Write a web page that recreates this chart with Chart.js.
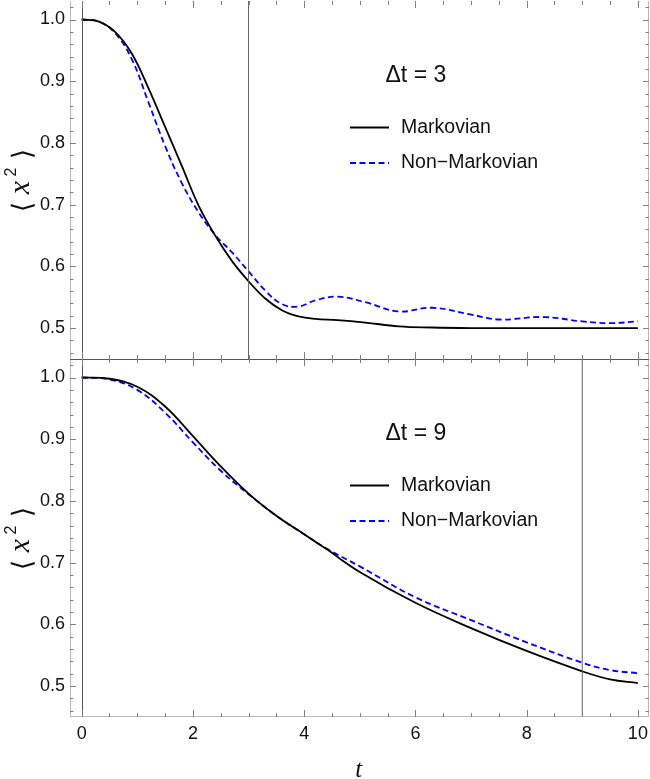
<!DOCTYPE html>
<html>
<head>
<meta charset="utf-8">
<script src="https://cdn.jsdelivr.net/npm/chart.js@4.4.1/dist/chart.umd.min.js"></script>
<style>
html, body { margin: 0; padding: 0; background: #fff; }
#wrap { position: relative; width: 650px; height: 779px; }
#topBox { position: absolute; left: 0; top: 0; width: 650px; height: 360px; }
#botBox { position: absolute; left: 0; top: 359px; width: 650px; height: 420px; }
</style>
</head>
<body>
<div id="wrap">
  <div id="topBox"><canvas id="topChart" width="650" height="360"></canvas></div>
  <div id="botBox"><canvas id="botChart" width="650" height="420"></canvas></div>
</div>
<script>
// DATA
//-----------------------------------------

// top panel, delta t = 3
let topTime = [0, 0.3, 0.6, 0.9, 1.2, 1.5, 1.8, 2.1, 2.4, 2.7, 3.0, 3.3, 3.6, 3.9, 4.2, 4.6, 5.1, 5.7, 6.3, 7.0, 7.5, 8.3, 9.0, 9.5, 10]
let topMarkov = [1.0, 0.997, 0.980, 0.945, 0.889, 0.826, 0.763, 0.699, 0.650, 0.609, 0.576, 0.548, 0.529, 0.519, 0.515, 0.513, 0.509, 0.503, 0.501, 0.500, 0.500, 0.500, 0.500, 0.500, 0.500]
let topNonMarkov = [1.0, 0.997, 0.978, 0.936, 0.866, 0.795, 0.735, 0.688, 0.651, 0.623, 0.592, 0.561, 0.539, 0.535, 0.545, 0.551, 0.542, 0.527, 0.533, 0.522, 0.514, 0.518, 0.511, 0.508, 0.511]

// bottom panel, delta t = 9
let botTime = [0, 0.5, 1.0, 1.5, 2.0, 2.5, 3.0, 3.5, 4.0, 4.4, 5.0, 6.0, 7.0, 8.0, 9.0, 9.5, 10]
let botMarkov = [1.0, 0.998, 0.985, 0.953, 0.905, 0.856, 0.812, 0.776, 0.746, 0.722, 0.685, 0.635, 0.594, 0.557, 0.524, 0.511, 0.505]
let botNonMarkov = [1.0, 0.997, 0.980, 0.943, 0.895, 0.849, 0.811, 0.776, 0.746, 0.723, 0.694, 0.644, 0.607, 0.571, 0.538, 0.526, 0.521]

// vertical marker lines and labels
let topMark = 3
let botMark = 9
let topLabel = '\u0394t = 3'
let botLabel = '\u0394t = 9'
let seriesNames = ['Markovian', 'Non\u2212Markovian']

// tick labels
let xTicks = [0, 2, 4, 6, 8, 10]
let yTicks = [0.5, 0.6, 0.7, 0.8, 0.9, 1.0]

//-----------------------------------------

Chart.defaults.font.family = '"Liberation Sans", Arial, sans-serif'
Chart.defaults.font.size = 18
Chart.defaults.color = '#111'

const dash = [6, 3.5]

function toPoints(xs, ys) {
    return xs.map((x, i) => ({ x: x, y: ys[i] }))
}

//draws the y title  < x^2 >  turned on its side
function drawYTitle(ctx, cx, cy) {
    ctx.save()
    ctx.translate(cx, cy)
    ctx.rotate(-Math.PI / 2)
    ctx.fillStyle = '#111'
    ctx.textAlign = 'center'
    ctx.textBaseline = 'alphabetic'
    ctx.font = '27px "DejaVu Sans"'
    ctx.fillText('\u27E8', -26, 2)
    ctx.fillText('\u27E9', 27, 2)
    ctx.font = 'italic 30px "Liberation Serif"'
    ctx.fillText('x', -6.5, 0)
    ctx.font = '16px "Liberation Sans"'
    ctx.fillText('2', 9, -13)
    ctx.restore()
}

const decor = {
    id: 'decor',
    afterDraw(chart, args, opts) {
        const ctx = chart.ctx
        const a = chart.chartArea
        const xs = chart.scales.x
        const ys = chart.scales.y
        ctx.save()

        //frame
        ctx.strokeStyle = '#b8b8b8'
        ctx.lineWidth = 1
        ctx.beginPath()
        ctx.moveTo(a.left + 0.5, a.top)
        ctx.lineTo(a.left + 0.5, a.bottom)
        ctx.moveTo(a.right - 0.5, a.top)
        ctx.lineTo(a.right - 0.5, a.bottom)
        if (opts.lightBottom) {
            ctx.moveTo(a.left, a.bottom - 0.5)
            ctx.lineTo(a.right, a.bottom - 0.5)
        }
        ctx.stroke()

        //dark axis lines
        ctx.strokeStyle = '#555'
        ctx.beginPath()
        let x0 = Math.round(xs.getPixelForValue(0)) + 0.5
        ctx.moveTo(x0, a.top)
        ctx.lineTo(x0, a.bottom)
        if (opts.darkTop) {
            ctx.moveTo(a.left, a.top + 0.5)
            ctx.lineTo(a.right, a.top + 0.5)
        }
        ctx.stroke()

        //ticks on the frame, pointing inward
        ctx.strokeStyle = '#808080'
        ctx.beginPath()
        for (let i = 0; i <= 20; i++) {
            let v = i * 0.5
            let px = Math.round(xs.getPixelForValue(v)) + 0.5
            let len = (i % 4 === 0) ? 7 : 4
            ctx.moveTo(px, a.top)
            ctx.lineTo(px, a.top + len)
            ctx.moveTo(px, a.bottom)
            ctx.lineTo(px, a.bottom - len)
        }
        for (let i = 23; i <= 51; i++) {
            let v = i * 0.02
            let py = Math.round(ys.getPixelForValue(v)) + 0.5
            let len = (i % 5 === 0) ? 6 : 3.5
            ctx.moveTo(a.left, py)
            ctx.lineTo(a.left + len, py)
            ctx.moveTo(a.right, py)
            ctx.lineTo(a.right - len, py)
        }
        ctx.stroke()

        //delta t label
        ctx.fillStyle = '#111'
        ctx.textAlign = 'left'
        ctx.textBaseline = 'alphabetic'
        ctx.font = '23px "Liberation Sans"'
        ctx.fillText(opts.label, 385.5, a.top + 80.5)

        //legend
        ctx.lineWidth = 1.8
        ctx.strokeStyle = '#000'
        ctx.beginPath()
        ctx.moveTo(350, a.top + 126.5)
        ctx.lineTo(389, a.top + 126.5)
        ctx.stroke()
        ctx.strokeStyle = '#0000ff'
        ctx.setLineDash(dash)
        ctx.beginPath()
        ctx.moveTo(350, a.top + 162)
        ctx.lineTo(389, a.top + 162)
        ctx.stroke()
        ctx.setLineDash([])
        ctx.font = '19.5px "Liberation Sans"'
        ctx.fillText(seriesNames[0], 401, a.top + 131.5)
        ctx.fillText(seriesNames[1], 401, a.top + 166.5)

        drawYTitle(ctx, 29, (a.top + a.bottom) / 2 + 1)

        //x title
        if (opts.xTitle) {
            ctx.fillStyle = '#111'
            ctx.textAlign = 'center'
            ctx.font = 'italic 25px "Liberation Serif"'
            ctx.fillText('t', xs.getPixelForValue(5) - 1, chart.height - 2)
        }
        ctx.restore()
    }
}

function makeChart(id, time, markov, nonMarkov, mark, label, isBottom) {
    let ctx = document.getElementById(id).getContext('2d')
    return new Chart(ctx, {
        type: 'line',
        data: {
            datasets: [{
                label: 'mark',
                data: [{ x: mark, y: 0.4 }, { x: mark, y: 1.1 }],
                borderColor: '#666',
                borderWidth: 1,
                pointRadius: 0
            }, {
                label: seriesNames[0],
                data: toPoints(time, markov),
                borderColor: '#000',
                borderWidth: 1.8,
                pointRadius: 0,
                tension: 0.4
            }, {
                label: seriesNames[1],
                data: toPoints(time, nonMarkov),
                borderColor: '#0000ff',
                borderWidth: 1.8,
                borderDash: dash,
                pointRadius: 0,
                tension: 0.4
            }]
        },
        options: {
            responsive: false,
            animation: false,
            devicePixelRatio: 1,
            layout: { padding: { top: isBottom ? 0 : 1, right: 1, bottom: isBottom ? 0 : 1, left: 0 } },
            plugins: {
                legend: { display: false },
                tooltip: { enabled: false },
                decor: { label: label, darkTop: isBottom, lightBottom: isBottom, xTitle: isBottom }
            },
            scales: {
                x: {
                    type: 'linear',
                    min: -0.21,
                    max: 10.2,
                    display: isBottom,
                    grid: { display: false, drawTicks: false },
                    border: { display: false },
                    ticks: { padding: 6, maxRotation: 0 },
                    afterBuildTicks: s => { s.ticks = xTicks.map(v => ({ value: v })) },
                    afterFit: s => {
                        if (isBottom) s.height = 62
                        s.paddingLeft = 0
                        s.paddingRight = 0
                    }
                },
                y: {
                    type: 'linear',
                    min: 0.45,
                    max: 1.03,
                    bounds: 'data',
                    grid: { display: false, drawTicks: false },
                    border: { display: false },
                    ticks: { padding: 5, callback: v => v.toFixed(1) },
                    afterBuildTicks: s => { s.ticks = yTicks.map(v => ({ value: v })) },
                    afterFit: s => { s.width = 70; s.paddingTop = 0; s.paddingBottom = 0 }
                }
            }
        },
        plugins: [decor]
    })
}

let topChart = makeChart('topChart', topTime, topMarkov, topNonMarkov, topMark, topLabel, false)
let botChart = makeChart('botChart', botTime, botMarkov, botNonMarkov, botMark, botLabel, true)
</script>
</body>
</html>
